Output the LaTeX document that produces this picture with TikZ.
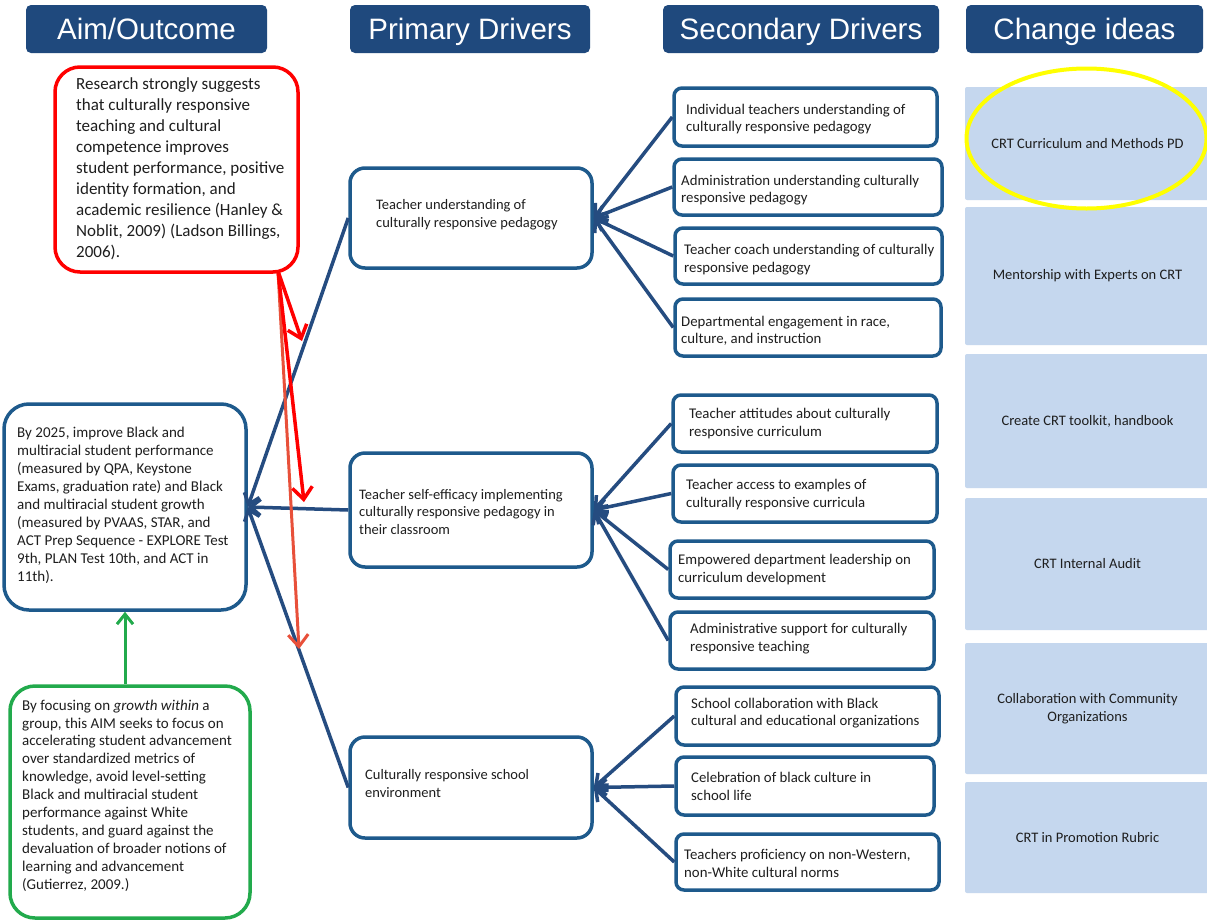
\documentclass[tikz,border=0pt]{standalone}
\usepackage{fontspec}
\setmainfont{Carlito}
\newfontfamily\headfont{Liberation Sans}
\usetikzlibrary{arrows.meta}
\definecolor{hdrblue}{RGB}{31,73,125}
\definecolor{bordblue}{RGB}{30,90,140}
\definecolor{linkblue}{RGB}{37,76,128}
\definecolor{redc}{RGB}{255,0,0}
\definecolor{orangec}{RGB}{232,80,58}
\definecolor{greenc}{RGB}{34,170,76}
\definecolor{ideafill}{RGB}{197,215,238}
\definecolor{yellowc}{RGB}{255,255,0}
\definecolor{txtcol}{RGB}{30,30,30}
\newcommand\fsz[2]{\fontsize{#1}{#2}\selectfont}
\begin{document}
\begin{tikzpicture}[x=1pt,y=-1pt,
  hdr/.style={fill=hdrblue, rounded corners=5pt, text=white, inner sep=0pt,
    font=\headfont\fsz{29.5}{33}, minimum height=48pt, text height=27pt, text depth=6pt},
  bbox/.style={draw=bordblue, line width=3.5pt, fill=white, inner sep=0pt},
  txt/.style={inner sep=0pt, align=left, text=txtcol, anchor=west},
  idea/.style={fill=ideafill, rounded corners=2pt, inner sep=0pt, minimum width=245pt,
    text=txtcol, align=center, font=\fsz{14.5}{17.5}},
  link/.style={draw=linkblue, line width=3.5pt, -{Straight Barb[length=10pt,width=16pt]}},
  redarrow/.style={draw=redc, line width=3.5pt, -{Straight Barb[length=12pt,width=20pt]}},
]
\useasboundingbox (0,0) rectangle (1207,921);
\fill[white] (0,0) rectangle (1207,921);

% headers
\node[hdr, minimum width=241pt] (h1) at (146.5,29) {Aim/Outcome};
\node[hdr, minimum width=240pt] (h2) at (470,29) {Primary Drivers};
\node[hdr, minimum width=276pt] (h3) at (801,29) {Secondary Drivers};
\node[hdr, minimum width=237pt] (h4) at (1084.5,29) {Change ideas};

% change ideas
\node[idea, minimum height=113pt] (c1) at (1087.5,143.5) {CRT Curriculum and Methods PD};
\node[idea, minimum height=138pt] (c2) at (1087.5,276) {Mentorship with Experts on CRT};
\node[idea, minimum height=134pt] (c3) at (1087.5,421) {Create CRT toolkit, handbook};
\node[idea, minimum height=132pt] (c4) at (1087.5,564) {CRT Internal Audit};
\node[idea, minimum height=131pt] (c5) at (1087.5,708.5) {Collaboration with Community\\Organizations};
\node[idea, minimum height=111pt] (c6) at (1087.5,837.5) {CRT in Promotion Rubric};
\draw[yellowc, line width=4pt] (c1.center) ++(-1,-5) ellipse [x radius=120, y radius=70];

% boxes
\node[bbox, draw=redc, rounded corners=25pt, minimum width=243pt, minimum height=205pt] (r) at (176.5,169.5) {};
\node[bbox, rounded corners=25pt, minimum width=242pt, minimum height=206pt] (a) at (125,507) {};
\node[bbox, draw=greenc, rounded corners=25pt, minimum width=240pt, minimum height=232pt] (g) at (130,802) {};

\node[bbox, rounded corners=15pt, minimum width=242pt, minimum height=100pt] (p1) at (471,218) {};
\node[bbox, rounded corners=15pt, minimum width=242pt, minimum height=114pt] (p2) at (471,510) {};
\node[bbox, rounded corners=15pt, minimum width=242pt, minimum height=101pt] (p3) at (471,787.5) {};

\node[bbox, rounded corners=8pt, minimum width=263pt, minimum height=58pt] (s1) at (805.5,117) {};
\node[bbox, rounded corners=8pt, minimum width=268pt, minimum height=56pt] (s2) at (808,187) {};
\node[bbox, rounded corners=8pt, minimum width=267pt, minimum height=56pt] (s3) at (808.5,256) {};
\node[bbox, rounded corners=8pt, minimum width=266pt, minimum height=57pt] (s4) at (808,327.5) {};
\node[bbox, rounded corners=8pt, minimum width=264pt, minimum height=57pt] (s5) at (805,423.5) {};
\node[bbox, rounded corners=8pt, minimum width=264pt, minimum height=57pt] (s6) at (805,493.5) {};
\node[bbox, rounded corners=8pt, minimum width=264pt, minimum height=57pt] (s7) at (802,569.5) {};
\node[bbox, rounded corners=8pt, minimum width=264pt, minimum height=57pt] (s8) at (802,640.5) {};
\node[bbox, rounded corners=8pt, minimum width=263pt, minimum height=58pt] (s9) at (807.5,716) {};
\node[bbox, rounded corners=8pt, minimum width=258pt, minimum height=58pt] (s10) at (805,786) {};
\node[bbox, rounded corners=8pt, minimum width=263pt, minimum height=56pt] (s11) at (807.5,862) {};

% texts
\node[txt, font=\fsz{17}{21}] (rt) at (76,168.5) {Research strongly suggests\\that culturally responsive\\teaching and cultural\\competence improves\\student performance, positive\\identity formation, and\\academic resilience (Hanley \&\\Noblit, 2009) (Ladson Billings,\\2006).};
\node[txt, font=\fsz{15}{18}] (at) at (17,505.5) {By 2025, improve Black and\\multiracial student performance\\(measured by QPA, Keystone\\Exams, graduation rate) and Black\\and multiracial student growth\\(measured by PVAAS, STAR, and\\ACT Prep Sequence - EXPLORE Test\\9th, PLAN Test 10th, and ACT in\\11th).};
\node[txt, font=\fsz{15}{17.9}] (gt) at (22,795.5) {By focusing on \textit{growth within} a\\group, this AIM seeks to focus on\\accelerating student advancement\\over standardized metrics of\\knowledge, avoid level-setting\\Black and multiracial student\\performance against White\\students, and guard against the\\devaluation of broader notions of\\learning and advancement\\(Gutierrez, 2009.)};

\node[txt, font=\fsz{14.5}{18}] (p1t) at (376,215) {Teacher understanding of\\culturally responsive pedagogy};
\node[txt, font=\fsz{14.5}{17.5}] (p2t) at (359,512) {Teacher self-efficacy implementing\\culturally responsive pedagogy in\\their classroom};
\node[txt, font=\fsz{14.5}{18}] (p3t) at (365,784) {Culturally responsive school\\environment};

\node[txt, font=\fsz{14.8}{17.5}] at (686,119) {Individual teachers understanding of\\culturally responsive pedagogy};
\node[txt, font=\fsz{14.8}{17.5}] at (681,190) {Administration understanding culturally\\responsive pedagogy};
\node[txt, font=\fsz{14.8}{17.5}] at (684,259.5) {Teacher coach understanding of culturally\\responsive pedagogy};
\node[txt, font=\fsz{14.8}{17.5}] at (681,331) {Departmental engagement in race,\\culture, and instruction};
\node[txt, font=\fsz{14.8}{17.5}] at (689,423.5) {Teacher attitudes about culturally\\responsive curriculum};
\node[txt, font=\fsz{14.8}{17.5}] at (686,494.5) {Teacher access to examples of\\culturally responsive curricula};
\node[txt, font=\fsz{14.8}{17.5}] at (678,569.5) {Empowered department leadership on\\curriculum development};
\node[txt, font=\fsz{14.8}{17.5}] at (690,638.5) {Administrative support for culturally\\responsive teaching};
\node[txt, font=\fsz{14.8}{17.5}] at (691,713) {School collaboration with Black\\cultural and educational organizations};
\node[txt, font=\fsz{14.8}{17.5}] at (691,786.5) {Celebration of black culture in\\school life};
\node[txt, font=\fsz{14.8}{17.5}] at (684,863.5) {Teachers proficiency on non-Western,\\non-White cultural norms};

% links secondary -> primary
\foreach \s in {s1,s2,s3,s4} \draw[link] (\s.west) -- (p1.east);
\foreach \s in {s5,s6,s7,s8} \draw[link] (\s.west) -- (p2.east);
\foreach \s in {s9,s10,s11} \draw[link] (\s.west) -- (p3.east);
% primary -> aim
\foreach \p in {p1,p2,p3} \draw[link] (\p.west) -- (a.east);

% green arrow
\draw[draw=greenc, line width=3pt, -{Straight Barb[length=10pt,width=16pt]}] (a.south |- g.north) -- (a.south);

% red arrows
\coordinate (rs) at (278,271);
\coordinate (re1) at (302,341);
\coordinate (re2) at (304,502);
\coordinate (re3) at (299,649);
\draw[redarrow, draw=orangec, line width=3pt] (rs) -- (re3);
\draw[redarrow] (rs) -- (re1);
\draw[redarrow] (rs) -- (re2);
\end{tikzpicture}
\end{document}
